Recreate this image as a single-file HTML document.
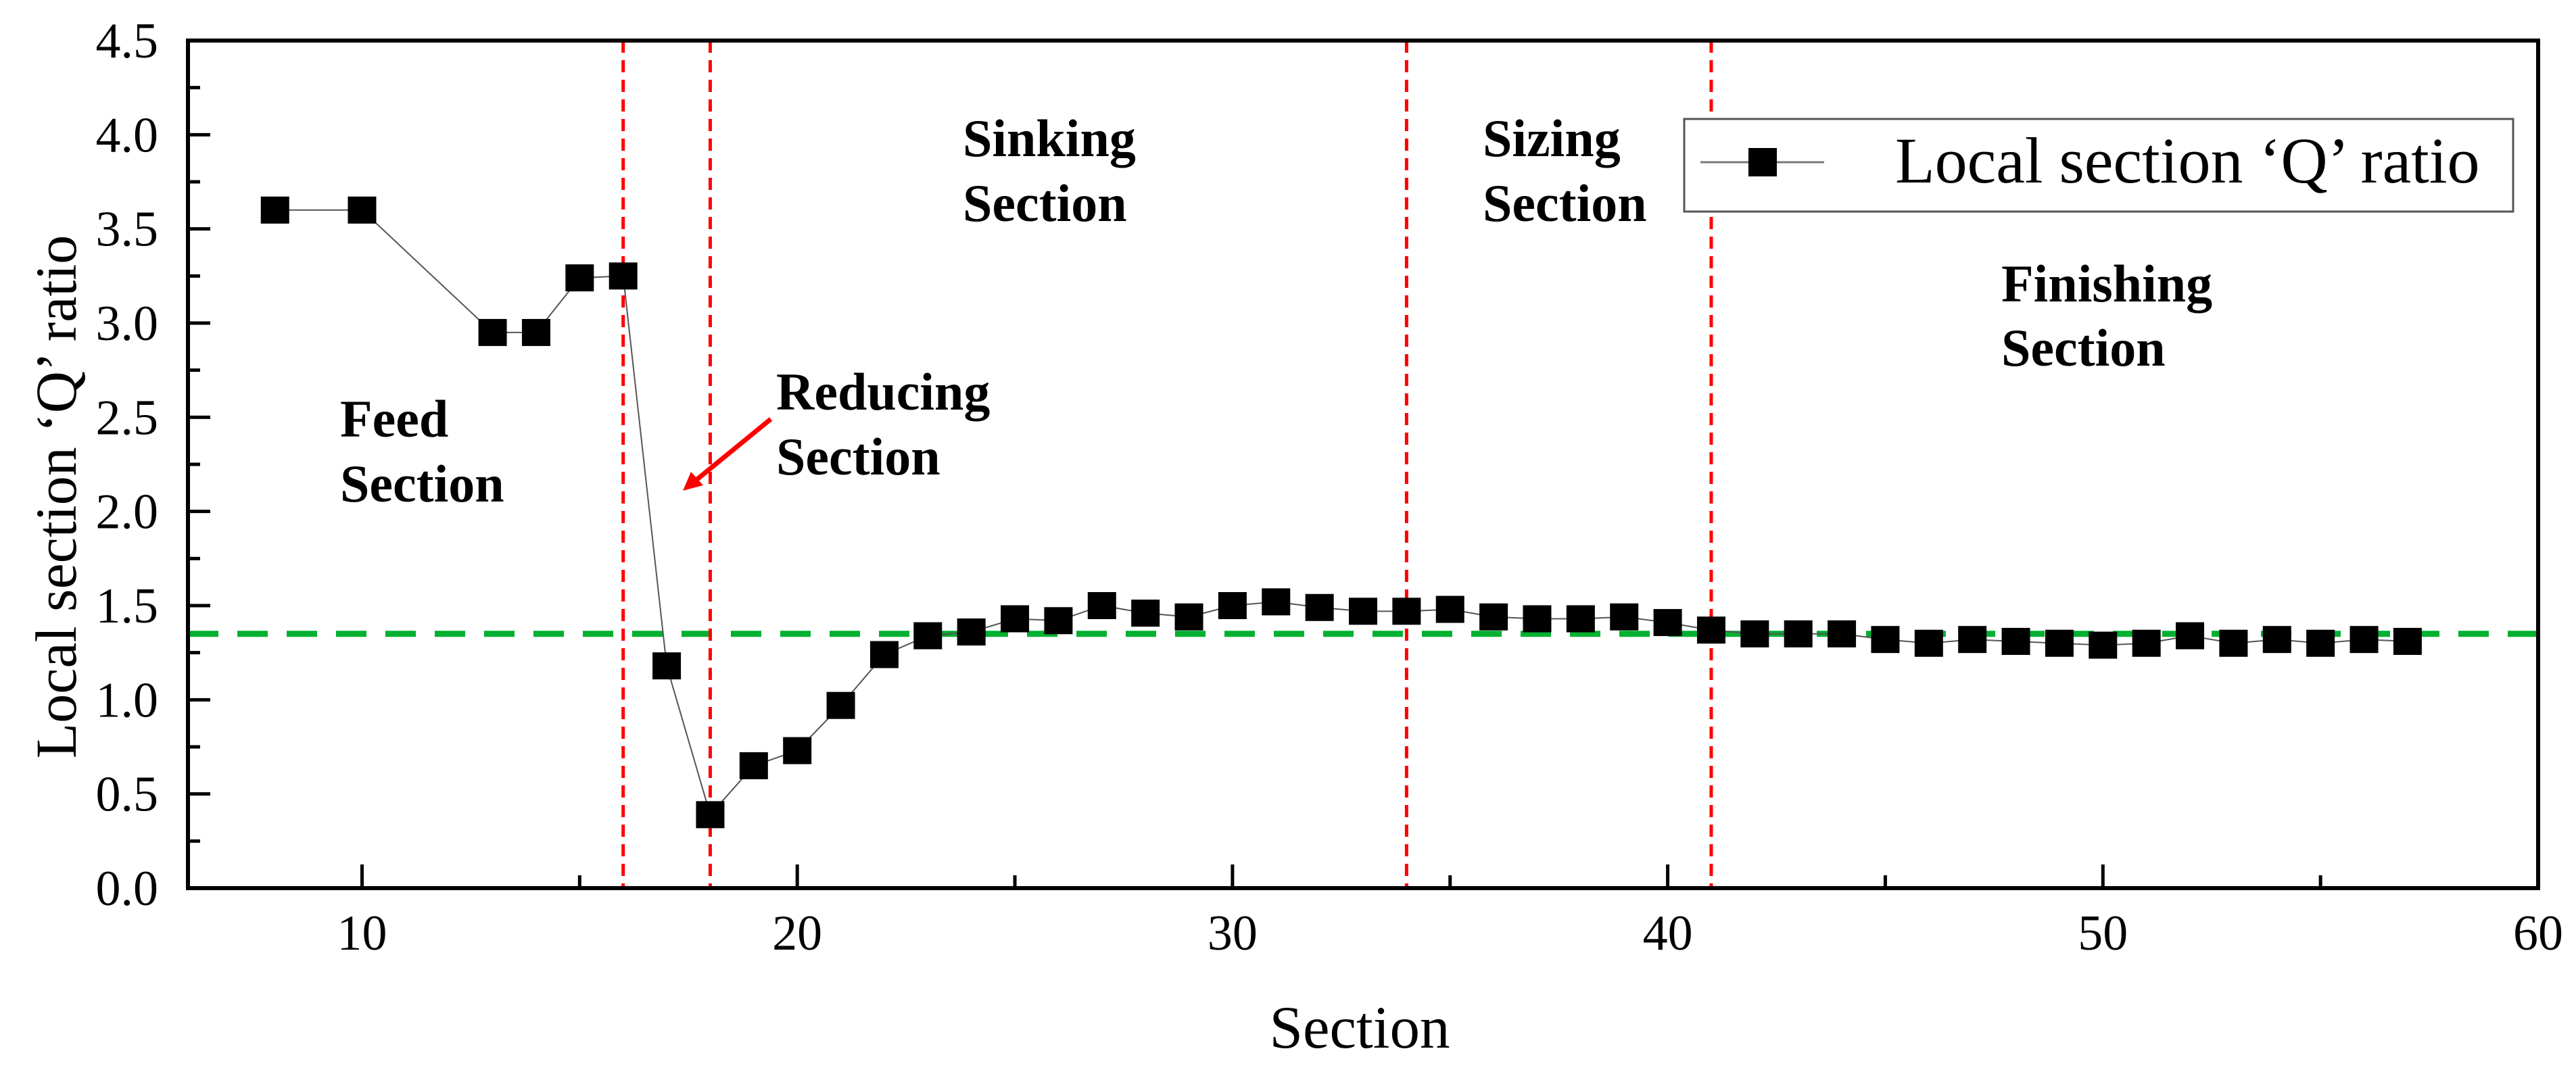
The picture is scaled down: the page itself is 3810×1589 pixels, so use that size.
<!DOCTYPE html>
<html><head><meta charset="utf-8"><style>
html,body{margin:0;padding:0;background:#fff;}
svg{display:block;font-family:"Liberation Serif",serif;}
</style></head><body>
<svg id="chart" width="3810" height="1589" viewBox="0 0 3810 1589" xmlns="http://www.w3.org/2000/svg">
<g id="grid"></g>
<g id="marks"></g>
<g id="axes"></g>
<g id="notes" font-weight="bold" font-size="78" fill="#000">
  <text x="503" y="646">Feed</text>
  <text x="503" y="742">Section</text>
  <text x="1148" y="606">Reducing</text>
  <text x="1148" y="702">Section</text>
  <text x="1424" y="231">Sinking</text>
  <text x="1424" y="327">Section</text>
  <text x="2193" y="231">Sizing</text>
  <text x="2193" y="327">Section</text>
  <text x="2960" y="446">Finishing</text>
  <text x="2960" y="541">Section</text>
</g>
<g>
  <line x1="1140" y1="620" x2="1030" y2="710" stroke="#ff0000" stroke-width="7"/>
  <polygon points="1010,726 1022,698 1040,718" fill="#ff0000"/>
</g>
<g>
  <rect x="2491" y="176" width="1226" height="137" fill="#fff" stroke="#555" stroke-width="3"/>
  <line x1="2515" y1="240" x2="2698" y2="240" stroke="#777" stroke-width="3"/>
  <rect x="2586" y="219" width="42" height="42" fill="#000"/>
  <text x="2803" y="270" font-size="96">Local section ‘Q’ ratio</text>
</g>
<text x="2011" y="1550" font-size="89" text-anchor="middle">Section</text>
<text transform="translate(112,735) rotate(-90)" font-size="86" text-anchor="middle">Local section ‘Q’ ratio</text>
</svg>
<script>
const xs = [8,10,13,14,15,16,17,18,19,20,21,22,23,24,25,26,27,28,29,30,31,32,33,34,35,36,37,38,39,40,41,42,43,44,45,46,47,48,49,50,51,52,53,54,55,56,57];
const qRatio = [3.6,3.6,2.95,2.95,3.24,3.25,1.18,0.39,0.65,0.73,0.97,1.24,1.34,1.36,1.43,1.42,1.5,1.46,1.44,1.5,1.52,1.49,1.47,1.47,1.48,1.44,1.43,1.43,1.44,1.41,1.37,1.35,1.35,1.35,1.32,1.3,1.32,1.31,1.3,1.29,1.3,1.34,1.3,1.32,1.3,1.32,1.31];
const sectionBoundaries = [16,18,34,41];
const averageLine = [1.35];
const xTicks = [10,20,30,40,50,60];
const yTicks = [0,0.5,1,1.5,2,2.5,3,3.5,4,4.5];
const xDomain = [6,60];
const yDomain = [0,4.5];

const L=278,R=3754,T=60,B=1314;
const sx=v=>L+(v-xDomain[0])/(xDomain[1]-xDomain[0])*(R-L);
const sy=v=>B-(v-yDomain[0])/(yDomain[1]-yDomain[0])*(B-T);
const NS="http://www.w3.org/2000/svg";
function mk(tag,attrs,parent){const e=document.createElementNS(NS,tag);for(const k in attrs)e.setAttribute(k,attrs[k]);parent.appendChild(e);return e;}
const marks=document.getElementById('marks'),axes=document.getElementById('axes'),grid=document.getElementById('grid');

averageLine.forEach(v=>{
  const l=mk('line',{x1:L,x2:R,y1:sy(v),y2:sy(v),stroke:'#00b030','stroke-width':9,'stroke-dasharray':'45 28'},grid);
  
  
});
sectionBoundaries.forEach(v=>{
  const l=mk('line',{x1:sx(v),x2:sx(v),y1:T,y2:B,stroke:'#ff0000','stroke-width':5,'stroke-dasharray':'18 11'},grid);
  
  
});
const pl=mk('polyline',{points:xs.map((x,i)=>sx(x)+','+sy(qRatio[i])).join(' '),fill:'none',stroke:'#555','stroke-width':2},marks);


xs.forEach((x,i)=>{
  const r=mk('rect',{x:sx(x)-21,y:sy(qRatio[i])-20,width:42,height:40,fill:'#000'},marks);
  
  
});
const fr=mk('rect',{x:L,y:T,width:R-L,height:B-T,fill:'none',stroke:'#000','stroke-width':6},axes);


xTicks.forEach(v=>{
  mk('line',{x1:sx(v),x2:sx(v),y1:B,y2:B-35,stroke:'#000','stroke-width':5},axes);
  const t=mk('text',{x:sx(v),y:1405,'font-size':74,'text-anchor':'middle'},axes);
  t.textContent=v;
  
  
});
for(let v=15;v<60;v+=10) mk('line',{x1:sx(v),x2:sx(v),y1:B,y2:B-19,stroke:'#000','stroke-width':5},axes);
yTicks.forEach(v=>{
  mk('line',{x1:L,x2:L+33,y1:sy(v),y2:sy(v),stroke:'#000','stroke-width':5},axes);
  const t=mk('text',{x:234,y:sy(v)+25,'font-size':74,'text-anchor':'end'},axes);
  t.textContent=v.toFixed(1);
  
  
});
for(let v=0.25;v<4.5;v+=0.5) mk('line',{x1:L,x2:L+18,y1:sy(v),y2:sy(v),stroke:'#000','stroke-width':5},axes);
</script>
</body></html>
